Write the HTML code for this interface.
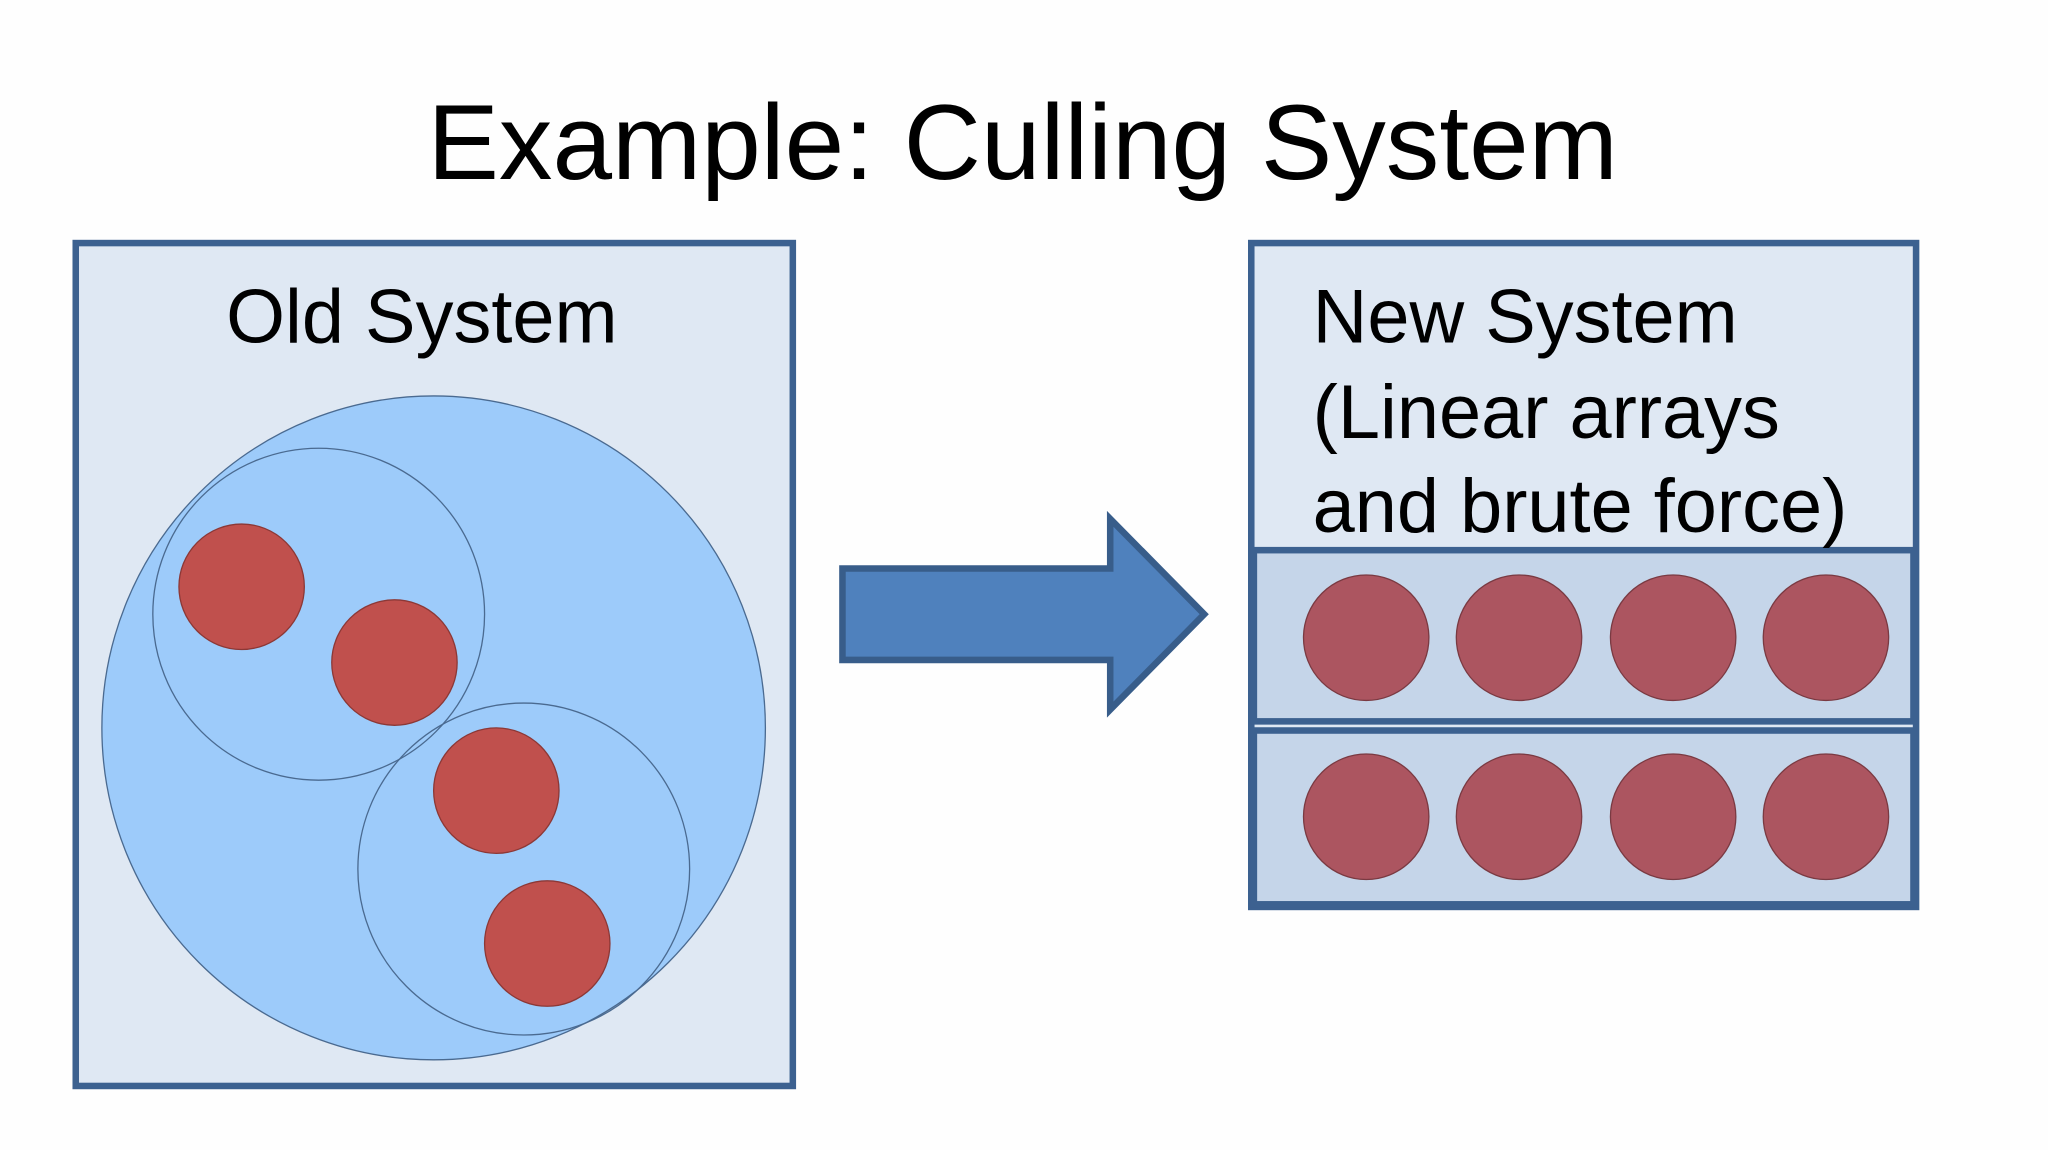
<!DOCTYPE html>
<html><head><style>
html,body{margin:0;padding:0;background:#fff;}
svg{display:block;}
text{font-family:"Liberation Sans",sans-serif;fill:#000;}
</style></head><body>
<svg width="2048" height="1150" viewBox="0 0 1568 880" preserveAspectRatio="none" xmlns="http://www.w3.org/2000/svg">
<rect width="1568" height="880" fill="#fefefe"/>
<text x="783" y="137" font-size="82" text-anchor="middle">Example: Culling System</text>
<rect x="58" y="186" width="549" height="645" fill="#dfe8f3" stroke="#3c6190" stroke-width="5"/>
<text x="323" y="262" font-size="58" text-anchor="middle">Old System</text>
<circle cx="332" cy="557" r="254" fill="#9dcbfa" stroke="#4a6a90" stroke-width="1"/>
<circle cx="244" cy="470" r="127" fill="none" stroke="#4a6a90" stroke-width="1"/>
<circle cx="401" cy="665" r="127" fill="none" stroke="#4a6a90" stroke-width="1"/>
<g fill="#c0504d" stroke="#8c3836" stroke-width="1">
<circle cx="185" cy="449" r="48"/><circle cx="302" cy="507" r="48"/>
<circle cx="380" cy="605" r="48"/><circle cx="419" cy="722" r="48"/>
</g>
<polygon points="645,435 850,435 850,397 922,470 850,543 850,505 645,505" fill="#4f81bd" stroke="#385d8a" stroke-width="5"/>
<rect x="958" y="186" width="509" height="508" fill="#dfe8f3" stroke="#3c6190" stroke-width="5"/>
<rect x="960" y="421" width="505" height="131" fill="#c5d5e9" stroke="#3c6190" stroke-width="5"/>
<rect x="960" y="559" width="505" height="133" fill="#c5d5e9" stroke="#3c6190" stroke-width="5"/>
<text x="1005" y="262" font-size="58">New System</text>
<text x="1005" y="335" font-size="58">(Linear arrays</text>
<text x="1005" y="407" font-size="58">and brute force)</text>
<g fill="#ac5560" stroke="#7a3a42" stroke-width="1">
<circle cx="1046" cy="488" r="48"/><circle cx="1163" cy="488" r="48"/><circle cx="1281" cy="488" r="48"/><circle cx="1398" cy="488" r="48"/>
<circle cx="1046" cy="625" r="48"/><circle cx="1163" cy="625" r="48"/><circle cx="1281" cy="625" r="48"/><circle cx="1398" cy="625" r="48"/>
</g>
</svg>
</body></html>
